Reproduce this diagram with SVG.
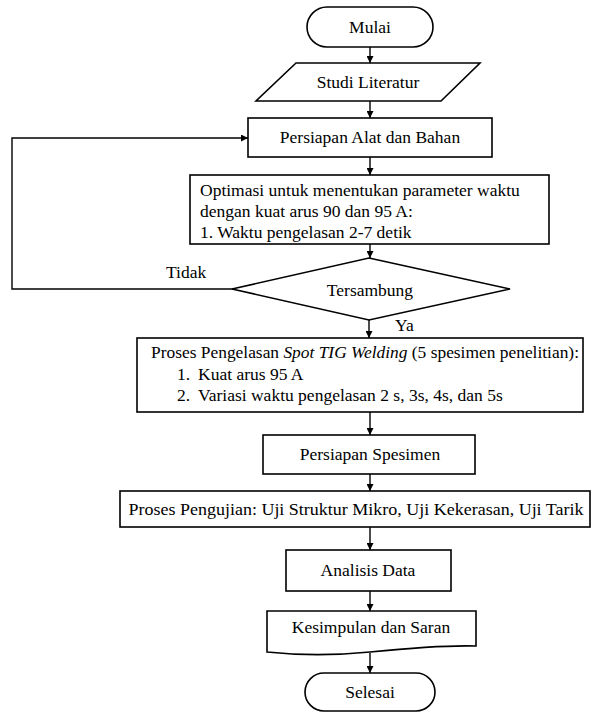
<svg xmlns="http://www.w3.org/2000/svg" width="604" height="718" viewBox="0 0 604 718" font-family="Liberation Serif, DejaVu Serif, serif">
<defs>
<marker id="ah" viewBox="0 0 10 10" refX="10" refY="5" markerWidth="7" markerHeight="7" markerUnits="userSpaceOnUse" orient="auto">
<path d="M0,0 L10,5 L0,10 Z" fill="#000"/>
</marker>
<style>
.s{fill:#fff;stroke:#000;stroke-width:1.6}
.c{fill:none;stroke:#000;stroke-width:1.4;marker-end:url(#ah)}
text{font-family:'Liberation Serif','DejaVu Serif',serif;font-size:17.5px;fill:#000}
.m{text-anchor:middle}
</style>
</defs>
<rect width="604" height="718" fill="#fff"/>
<g id="connectors">
<line class="c" x1="370" y1="47" x2="370" y2="63"/>
<line class="c" x1="370" y1="101" x2="370" y2="118"/>
<line class="c" x1="370" y1="157" x2="370" y2="175"/>
<line class="c" x1="370" y1="244" x2="370" y2="258"/>
<polyline class="c" points="233,289 12,289 12,138 248,138"/>
<line class="c" x1="369" y1="320" x2="369" y2="338"/>
<line class="c" x1="370" y1="412" x2="370" y2="435"/>
<line class="c" x1="370" y1="474" x2="370" y2="491"/>
<line class="c" x1="370" y1="527" x2="370" y2="550"/>
<line class="c" x1="370" y1="591" x2="370" y2="611"/>
<line class="c" x1="370" y1="653" x2="370" y2="673"/>
<text x="166" y="278">Tidak</text>
<text x="395" y="331">Ya</text>
</g>
<g id="mulai">
<rect class="s" x="307" y="7" width="126" height="40" rx="20"/>
<text class="m" x="370" y="33">Mulai</text>
</g>
<g id="studi">
<polygon class="s" points="296,63 480,63 441,101 256,101"/>
<text class="m" x="368" y="88">Studi Literatur</text>
</g>
<g id="persiapan-alat">
<rect class="s" x="248" y="118" width="244" height="39"/>
<text class="m" x="370" y="143">Persiapan Alat dan Bahan</text>
</g>
<g id="optimasi">
<rect class="s" x="190" y="175" width="359" height="69"/>
<text x="200" y="196">Optimasi untuk menentukan parameter waktu</text>
<text x="200" y="217">dengan kuat arus 90 dan 95 A:</text>
<text x="200" y="238">1. Waktu pengelasan 2-7 detik</text>
</g>
<g id="tersambung">
<polygon class="s" points="369,258 510,289 369,320 232,289"/>
<text class="m" x="370" y="296">Tersambung</text>
</g>
<g id="proses-pengelasan">
<rect class="s" x="137" y="338" width="446" height="74"/>
<text x="151" y="358" textLength="428" lengthAdjust="spacingAndGlyphs">Proses Pengelasan <tspan font-style="italic">Spot TIG Welding</tspan> (5 spesimen penelitian):</text>
<text x="177" y="380">1.</text>
<text x="198" y="380">Kuat arus 95 A</text>
<text x="177" y="401">2.</text>
<text x="198" y="401">Variasi waktu pengelasan 2 s, 3s, 4s, dan 5s</text>
</g>
<g id="persiapan-spesimen">
<rect class="s" x="263" y="435" width="212" height="39"/>
<text class="m" x="370" y="460">Persiapan Spesimen</text>
</g>
<g id="proses-pengujian">
<rect class="s" x="120" y="491" width="470" height="36"/>
<text class="m" x="356" y="515" textLength="455" lengthAdjust="spacingAndGlyphs">Proses Pengujian: Uji Struktur Mikro, Uji Kekerasan, Uji Tarik</text>
</g>
<g id="analisis">
<rect class="s" x="286" y="550" width="165" height="41"/>
<text class="m" x="368" y="576">Analisis Data</text>
</g>
<g id="kesimpulan">
<path class="s" d="M267,611 H476 V646 C445,645 410,648 370,652 C330,656 295,655 267,652 Z"/>
<text class="m" x="371" y="633">Kesimpulan dan Saran</text>
</g>
<g id="selesai">
<rect class="s" x="305" y="673" width="130" height="38" rx="19"/>
<text class="m" x="370" y="698">Selesai</text>
</g>
</svg>
